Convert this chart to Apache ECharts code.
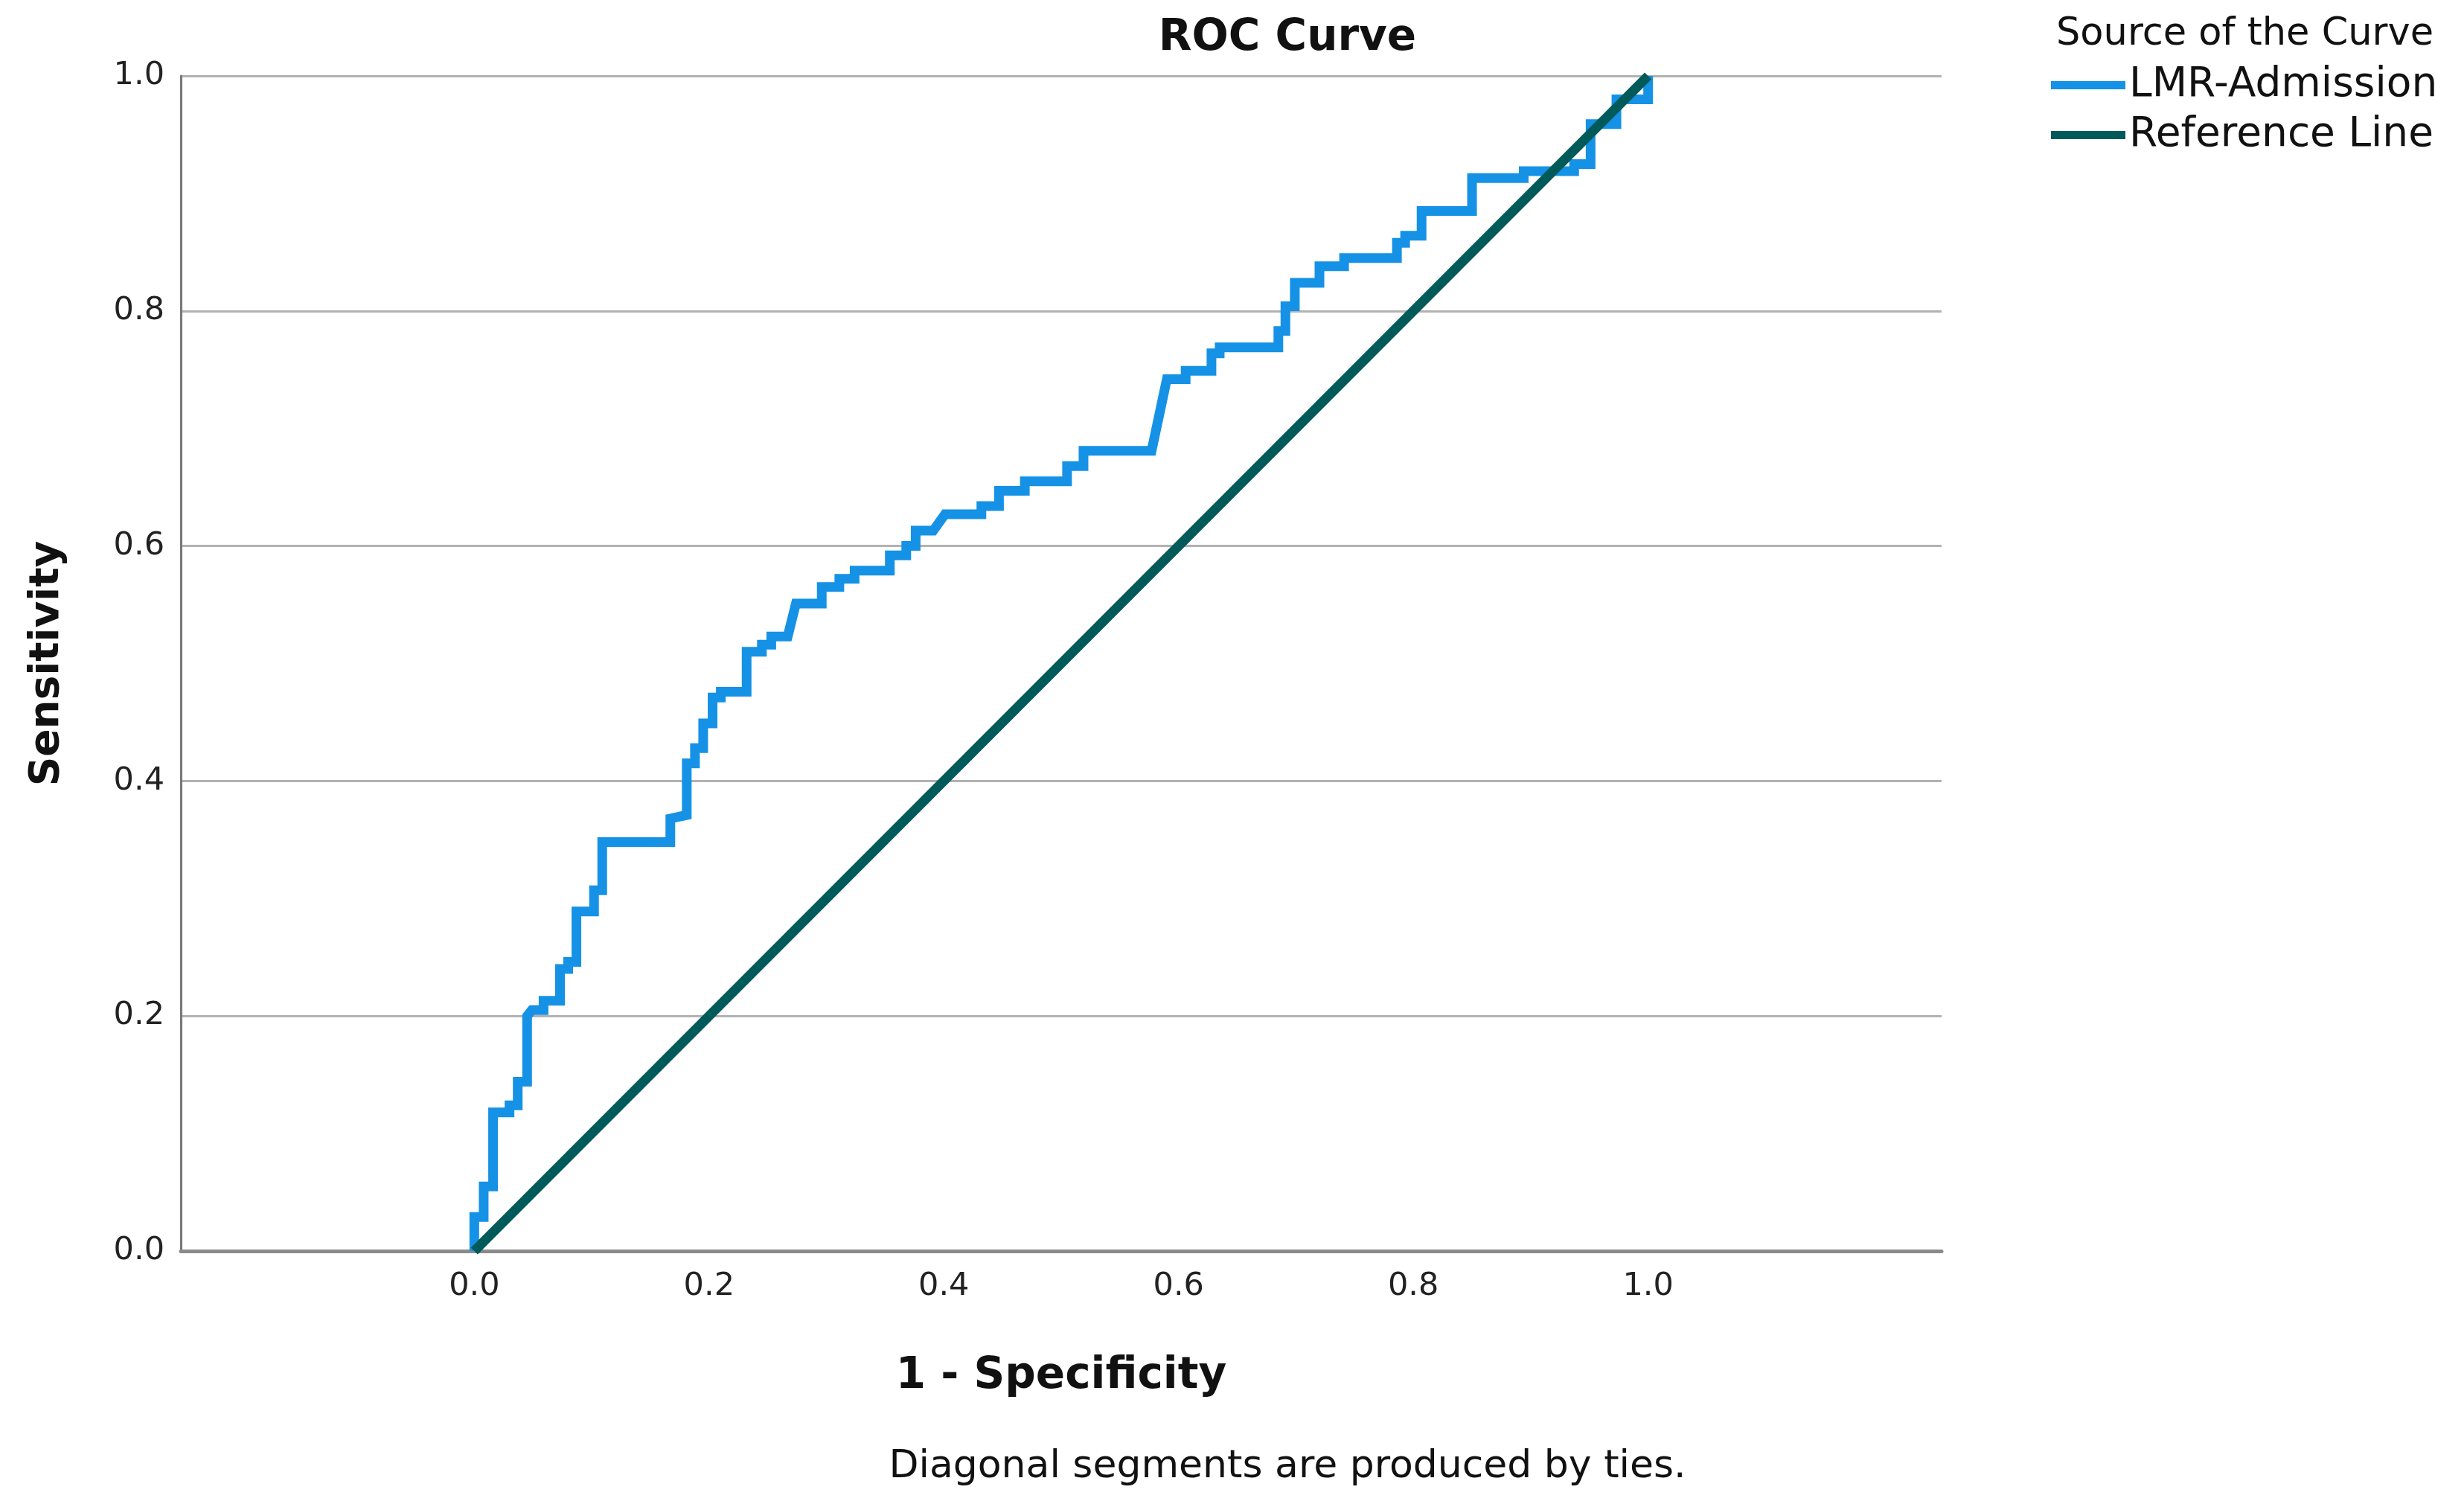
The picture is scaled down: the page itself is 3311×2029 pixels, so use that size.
<!DOCTYPE html>
<html>
<head>
<meta charset="utf-8">
<title>ROC Curve</title>
<script src="https://cdn.jsdelivr.net/npm/echarts@6/dist/echarts.min.js"></script>
<style>
    html, body { margin: 0; padding: 0; background: #fff; }
    #chart { width: 3311px; height: 2029px; }
</style>
</head>
<body>
<div id="chart"></div>
<script>
// staircase corners of the ROC curve
var fpr = [0, 0, 0.008, 0.008, 0.016, 0.016, 0.030, 0.030, 0.037, 0.037, 0.045, 0.045, 0.049, 0.059, 0.059,
    0.073, 0.073, 0.080, 0.080, 0.087, 0.087, 0.102, 0.102, 0.109, 0.109, 0.167, 0.167, 0.181, 0.181,
    0.188, 0.188, 0.195, 0.195, 0.203, 0.203, 0.210, 0.210, 0.232, 0.232, 0.245, 0.245, 0.253, 0.253,
    0.267, 0.274, 0.296, 0.296, 0.311, 0.311, 0.324, 0.324, 0.354, 0.354, 0.368, 0.368, 0.376, 0.376,
    0.391, 0.401, 0.432, 0.432, 0.447, 0.447, 0.469, 0.469, 0.505, 0.505, 0.519, 0.519, 0.577, 0.590,
    0.606, 0.606, 0.628, 0.628, 0.635, 0.635, 0.685, 0.685, 0.691, 0.691, 0.699, 0.699, 0.720, 0.720,
    0.741, 0.741, 0.786, 0.786, 0.793, 0.793, 0.807, 0.807, 0.850, 0.850, 0.894, 0.894, 0.937, 0.937,
    0.951, 0.951, 0.973, 0.973, 1.0, 1.0];
var tpr = [0, 0.029, 0.029, 0.055, 0.055, 0.118, 0.118, 0.124, 0.124, 0.144, 0.144, 0.200, 0.205, 0.205, 0.213,
    0.213, 0.240, 0.240, 0.246, 0.246, 0.289, 0.289, 0.307, 0.307, 0.348, 0.348, 0.368, 0.371, 0.415,
    0.415, 0.428, 0.428, 0.449, 0.449, 0.471, 0.471, 0.476, 0.476, 0.510, 0.510, 0.516, 0.516, 0.523,
    0.523, 0.551, 0.551, 0.565, 0.565, 0.572, 0.572, 0.579, 0.579, 0.592, 0.592, 0.600, 0.600, 0.613,
    0.613, 0.627, 0.627, 0.634, 0.634, 0.647, 0.647, 0.655, 0.655, 0.668, 0.668, 0.681, 0.681, 0.742,
    0.742, 0.749, 0.749, 0.764, 0.764, 0.769, 0.769, 0.783, 0.783, 0.804, 0.804, 0.824, 0.824, 0.838,
    0.838, 0.845, 0.845, 0.858, 0.858, 0.864, 0.864, 0.885, 0.885, 0.913, 0.913, 0.919, 0.919, 0.925,
    0.925, 0.959, 0.959, 0.980, 0.980, 1.0];
var refX = [0, 1];
var refY = [0, 1];
var xTicks = [0, 0.2, 0.4, 0.6, 0.8, 1.0];

var curveData = fpr.map(function (x, i) { return [x, tpr[i]]; });
var refData = refX.map(function (x, i) { return [x, refY[i]]; });

var FONT = 'DejaVu Sans';
var chart = echarts.init(document.getElementById('chart'));
chart.setOption({
    animation: false,
    backgroundColor: '#fff',
    title: [
        {
            text: 'ROC Curve',
            left: 1725, top: 18, textAlign: 'center',
            textStyle: { fontFamily: FONT, fontSize: 58, fontWeight: 'bold', color: '#111' }
        },
        {
            text: 'Source of the Curve',
            left: 2758, top: 16,
            textStyle: { fontFamily: FONT, fontSize: 51, fontWeight: 'normal', color: '#111' }
        },
        {
            text: 'Diagonal segments are produced by ties.',
            left: 1725, top: 1940, textAlign: 'center',
            textStyle: { fontFamily: FONT, fontSize: 52, fontWeight: 'normal', color: '#111' }
        }
    ],
    legend: {
        orient: 'vertical',
        left: 2751, top: 82,
        icon: 'rect',
        itemWidth: 100, itemHeight: 11,
        itemGap: 12,
        textStyle: { fontFamily: FONT, fontSize: 55, color: '#111', lineHeight: 55 },
        data: ['LMR-Admission', 'Reference Line']
    },
    grid: { left: 243, right: 702, top: 102, bottom: 348, containLabel: false },
    xAxis: {
        type: 'value',
        min: -0.25, max: 1.25,
        name: '1 - Specificity',
        nameLocation: 'middle',
        nameGap: 140,
        nameTextStyle: { fontFamily: FONT, fontSize: 58, fontWeight: 'bold', color: '#111' },
        axisLine: { show: true, onZero: false, lineStyle: { color: '#8a8a8a', width: 5 } },
        axisTick: { show: false },
        splitLine: { show: false },
        axisLabel: {
            customValues: xTicks,
            margin: 26,
            fontFamily: FONT, fontSize: 43, color: '#222',
            formatter: function (v) { return v.toFixed(1); }
        }
    },
    yAxis: {
        type: 'value',
        min: 0, max: 1, interval: 0.2,
        name: 'Sensitivity',
        nameLocation: 'middle',
        nameGap: 152,
        nameTextStyle: { fontFamily: FONT, fontSize: 55, fontWeight: 'bold', color: '#111' },
        axisLine: { show: true, onZero: false, lineStyle: { color: '#777', width: 3 } },
        axisTick: { show: false },
        splitLine: { show: true, lineStyle: { color: '#b2b2b2', width: 3 } },
        axisLabel: {
            margin: 22,
            fontFamily: FONT, fontSize: 43, color: '#222',
            formatter: function (v) { return v.toFixed(1); }
        }
    },
    series: [
        {
            name: 'LMR-Admission',
            type: 'line',
            data: curveData,
            showSymbol: false,
            color: '#1592e6',
            lineStyle: { color: '#1592e6', width: 13, join: 'miter' }
        },
        {
            name: 'Reference Line',
            type: 'line',
            data: refData,
            showSymbol: false,
            color: '#005a5a',
            lineStyle: { color: '#005a5a', width: 13 }
        }
    ]
});
</script>
</body>
</html>
